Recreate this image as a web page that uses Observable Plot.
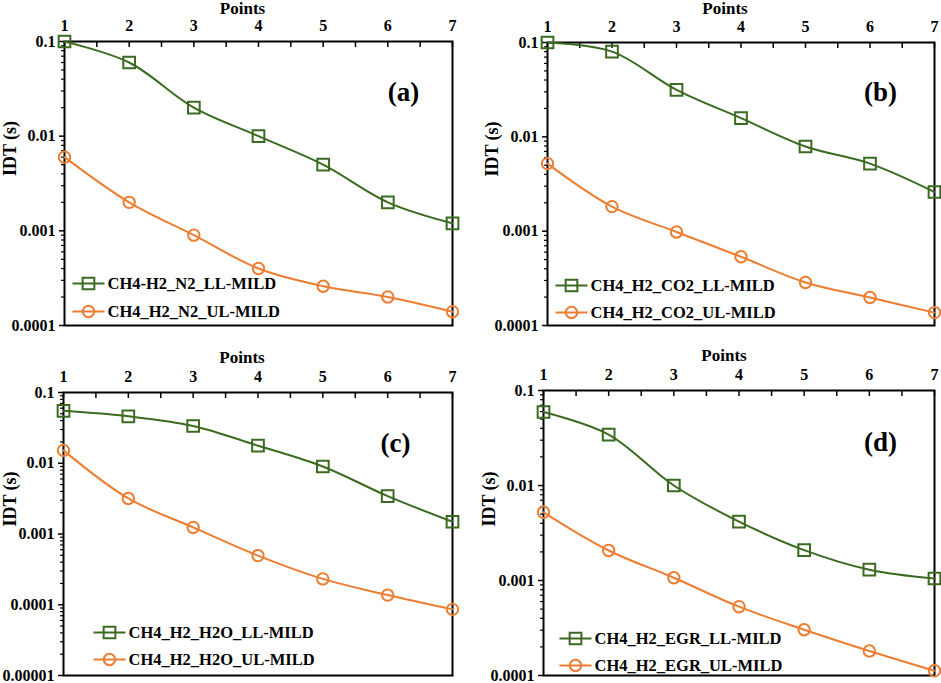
<!DOCTYPE html>
<html>
<head>
<meta charset="utf-8">
<script src="https://cdn.jsdelivr.net/npm/d3@7"></script>
<script src="https://cdn.jsdelivr.net/npm/@observablehq/plot@0.6"></script>
<style>
  html, body { margin: 0; padding: 0; background: #fff; }
  #wrap { position: relative; width: 941px; height: 683px; overflow: hidden; }
  #wrap > svg { position: absolute; }
</style>
</head>
<body>
<div id="wrap"></div>
<script>
// ---- data ----
const points = [1, 2, 3, 4, 5, 6, 7];
const xMinorTicks = [1, 1.5, 2, 2.5, 3, 3.5, 4, 4.5, 5, 5.5, 6, 6.5, 7];

const namesA = ["CH4-H2_N2_LL-MILD", "CH4_H2_N2_UL-MILD"];
const llA = [0.1, 0.06, 0.02, 0.01, 0.005, 0.002, 0.0012];
const ulA = [0.006, 0.002, 0.0009, 0.0004, 0.00026, 0.0002, 0.00014];

const namesB = ["CH4_H2_CO2_LL-MILD", "CH4_H2_CO2_UL-MILD"];
const llB = [0.1, 0.08, 0.0315, 0.0158, 0.0079, 0.0052, 0.0026];
const ulB = [0.0052, 0.00182, 0.00098, 0.000535, 0.000286, 0.000198, 0.000137];

const namesC = ["CH4_H2_H2O_LL-MILD", "CH4_H2_H2O_UL-MILD"];
const llC = [0.055, 0.046, 0.0336, 0.0177, 0.009, 0.00343, 0.00149];
const ulC = [0.0152, 0.00318, 0.00124, 0.000495, 0.000232, 0.000137, 0.000086];

const namesD = ["CH4_H2_EGR_LL-MILD", "CH4_H2_EGR_UL-MILD"];
const llD = [0.0594, 0.0344, 0.01, 0.00417, 0.00209, 0.0013, 0.00105];
const ulD = [0.00522, 0.00207, 0.00107, 0.00053, 0.000303, 0.000181, 0.000112];

const yTicks4 = [0.1, 0.01, 0.001, 0.0001];
const yLabels4 = ["0.1", "0.01", "0.001", "0.0001"];
const yTicks5 = [0.1, 0.01, 0.001, 0.0001, 0.00001];
const yLabels5 = ["0.1", "0.01", "0.001", "0.0001", "0.00001"];
const minorMult = [2, 3, 4, 5, 6, 7, 8, 9];

const GREEN = "#3b6b20";
const ORANGE = "#ed7d31";
const FONT = "Liberation Serif";

const lineSym = { draw(ctx) { ctx.moveTo(-16, 0); ctx.lineTo(16, 0); } };

function panel(cfg) {
  const data = [];
  points.forEach((p, i) => data.push({ p, v: cfg.ll[i], s: cfg.names[0] }));
  points.forEach((p, i) => data.push({ p, v: cfg.ul[i], s: cfg.names[1] }));
  const g = data.filter(d => d.s === cfg.names[0]);
  const o = data.filter(d => d.s === cfg.names[1]);
  const lowest = cfg.yTicks[cfg.yTicks.length - 1];
  const minor = [];
  cfg.yTicks.forEach(t => minorMult.forEach(m => { const v = t * m / 10; if (v >= lowest * 1.5) minor.push(v); }));
  const labelOf = d => {
    let best = 0;
    cfg.yTicks.forEach((t, i) => { if (Math.abs(Math.log10(t) - Math.log10(d)) < Math.abs(Math.log10(cfg.yTicks[best]) - Math.log10(d))) best = i; });
    return cfg.yLabels[best];
  };
  const lg = cfg.legend;
  const chart = Plot.plot({
    width: cfg.width, height: cfg.height,
    marginLeft: cfg.m[0], marginRight: cfg.m[1], marginTop: cfg.m[2], marginBottom: cfg.m[3],
    style: { fontFamily: FONT, fontWeight: "bold", fontSize: "16px", background: "transparent", overflow: "visible" },
    x: { domain: [1, 7] },
    y: { type: "log", domain: [lowest, 0.1] },
    marks: [
      Plot.axisX({ anchor: "top", ticks: points, tickSize: 0, tickPadding: 11, tickFormat: d => String(d), label: null, fontSize: 16 }),
      Plot.axisX({ anchor: "top", ticks: xMinorTicks, tickSize: -5, text: null, label: null, strokeWidth: 1.5 }),
      Plot.axisY({ anchor: "left", ticks: cfg.yTicks, tickSize: 5, tickPadding: 4, tickFormat: labelOf, label: null, fontSize: 16, strokeWidth: 1.5 }),
      Plot.axisY({ anchor: "left", ticks: minor, tickSize: 3, text: null, label: null, strokeWidth: 1.2 }),
      Plot.frame({ stroke: "black", strokeWidth: 2 }),
      Plot.line(g, { x: "p", y: "v", stroke: GREEN, strokeWidth: 2, curve: "catmull-rom" }),
      Plot.line(o, { x: "p", y: "v", stroke: ORANGE, strokeWidth: 2, curve: "catmull-rom" }),
      Plot.dot(g, { x: "p", y: "v", symbol: "square", r: 6.6, stroke: GREEN, strokeWidth: 2, fill: "none" }),
      Plot.dot(o, { x: "p", y: "v", symbol: "circle", r: 5.7, stroke: ORANGE, strokeWidth: 2, fill: "none" }),
      // legend
      Plot.dot([0], { frameAnchor: "bottom-left", dx: lg.mx, dy: lg.y1, symbol: lineSym, stroke: GREEN, strokeWidth: 2, fill: "none" }),
      Plot.dot([0], { frameAnchor: "bottom-left", dx: lg.mx, dy: lg.y1, symbol: "square", r: 6.6, stroke: GREEN, strokeWidth: 2, fill: "none" }),
      Plot.text([cfg.names[0]], { frameAnchor: "bottom-left", dx: lg.tx, dy: lg.y1, text: d => d, textAnchor: "start", lineAnchor: "middle", fontSize: 16.5, fill: "black" }),
      Plot.dot([0], { frameAnchor: "bottom-left", dx: lg.mx, dy: lg.y2, symbol: lineSym, stroke: ORANGE, strokeWidth: 2, fill: "none" }),
      Plot.dot([0], { frameAnchor: "bottom-left", dx: lg.mx, dy: lg.y2, symbol: "circle", r: 5.7, stroke: ORANGE, strokeWidth: 2, fill: "none" }),
      Plot.text([cfg.names[1]], { frameAnchor: "bottom-left", dx: lg.tx, dy: lg.y2, text: d => d, textAnchor: "start", lineAnchor: "middle", fontSize: 16.5, fill: "black" }),
      // panel tag
      Plot.text([cfg.tag], { frameAnchor: "top-right", dx: cfg.tagPos[0], dy: cfg.tagPos[1], text: d => d, textAnchor: "middle", lineAnchor: "middle", fontSize: 27, fill: "black" }),
      // axis titles
      Plot.text(["IDT (s)"], { frameAnchor: "left", dx: cfg.idt[0], dy: cfg.idt[1], text: d => d, rotate: -90, textAnchor: "middle", lineAnchor: "middle", fontSize: 18, fill: "black" }),
      Plot.text(["Points"], { frameAnchor: "top", dx: cfg.pts[0], dy: cfg.pts[1], text: d => d, textAnchor: "middle", lineAnchor: "middle", fontSize: 17, fill: "black" })
    ]
  });
  chart.style.left = cfg.left + "px";
  chart.style.top = cfg.top + "px";
  document.getElementById("wrap").appendChild(chart);
}

panel({ ll: llA, ul: ulA, names: namesA, tag: "(a)", yTicks: yTicks4, yLabels: yLabels4,
  left: 0, top: 0, width: 470, height: 340, m: [64, 18, 41, 15],
  legend: { mx: 24, tx: 43, y1: -42, y2: -14 }, tagPos: [-49, 51], idt: [-54, -35], pts: [-16, -33] });

panel({ ll: llB, ul: ulB, names: namesB, tag: "(b)", yTicks: yTicks4, yLabels: yLabels4,
  left: 470, top: 0, width: 471, height: 340, m: [77, 7, 42, 15],
  legend: { mx: 24, tx: 43, y1: -40, y2: -13 }, tagPos: [-54, 50], idt: [-55, -35], pts: [-16, -34] });

panel({ ll: llC, ul: ulC, names: namesC, tag: "(c)", yTicks: yTicks5, yLabels: yLabels5,
  left: 0, top: 340, width: 470, height: 343, m: [63, 18, 52, 8],
  legend: { mx: 46, tx: 65, y1: -43, y2: -16 }, tagPos: [-57, 51], idt: [-53, -35], pts: [-16, -35] });

panel({ ll: llD, ul: ulD, names: namesD, tag: "(d)", yTicks: yTicks4, yLabels: yLabels4,
  left: 470, top: 340, width: 471, height: 343, m: [73, 7, 50, 8],
  legend: { mx: 32, tx: 51, y1: -37, y2: -10 }, tagPos: [-54, 52], idt: [-54, -34], pts: [-15, -35] });
</script>
</body>
</html>
